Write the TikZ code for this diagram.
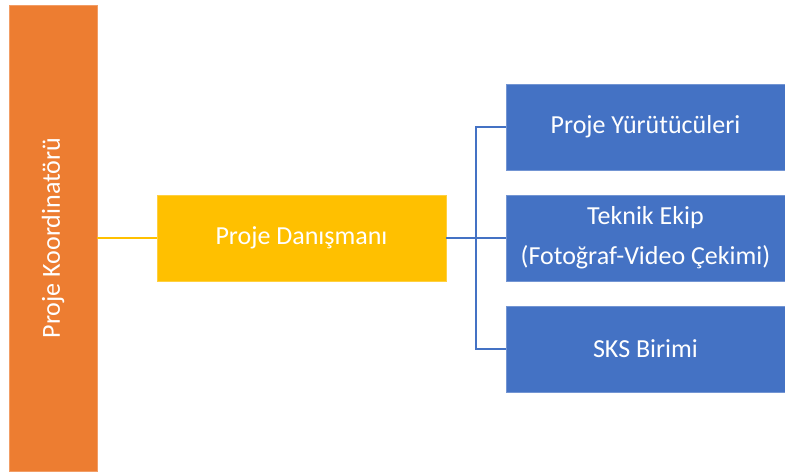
\documentclass[tikz,border=0pt]{standalone}
\usepackage{fontspec}
\setmainfont{Carlito}
\definecolor{cOrange}{HTML}{ED7D31}
\definecolor{cYellow}{HTML}{FFC000}
\definecolor{cBlue}{HTML}{4472C4}
\begin{document}
\begin{tikzpicture}[x=1pt,y=-1pt,
  box/.style={draw=#1!75!white, fill=#1, line width=0.8pt, text=white, inner sep=0pt, align=center,
    font=\fontsize{26}{40}\selectfont},
  link/.style={line width=1.1pt}]
\useasboundingbox (0,0) rectangle (785,472);
\node[box=cOrange, minimum width=466pt, minimum height=88pt, rotate=90] (coord) at (53,238) {Proje Koordinatörü};
\node[box=cYellow, minimum width=289pt, minimum height=86pt] (dan) at (301.5,238) {Proje Danışmanı};
\node[box=cBlue, minimum width=279pt, minimum height=86pt] (yur) at (645.5,127) {Proje Yürütücüleri};
\node[box=cBlue, minimum width=279pt, minimum height=86pt] (tek) at (645.5,238) {Teknik Ekip\\(Fotoğraf-Video Çekimi)};
\node[box=cBlue, minimum width=279pt, minimum height=86pt] (sks) at (645.5,349) {SKS Birimi};
\coordinate (j) at (476,238);
\draw[link, cYellow] (coord.south |- dan.west) -- (dan.west);
\draw[link, cBlue] (dan.east) -- (tek.west);
\draw[link, cBlue] (yur.west) -| (j) |- (sks.west);
\end{tikzpicture}
\end{document}
